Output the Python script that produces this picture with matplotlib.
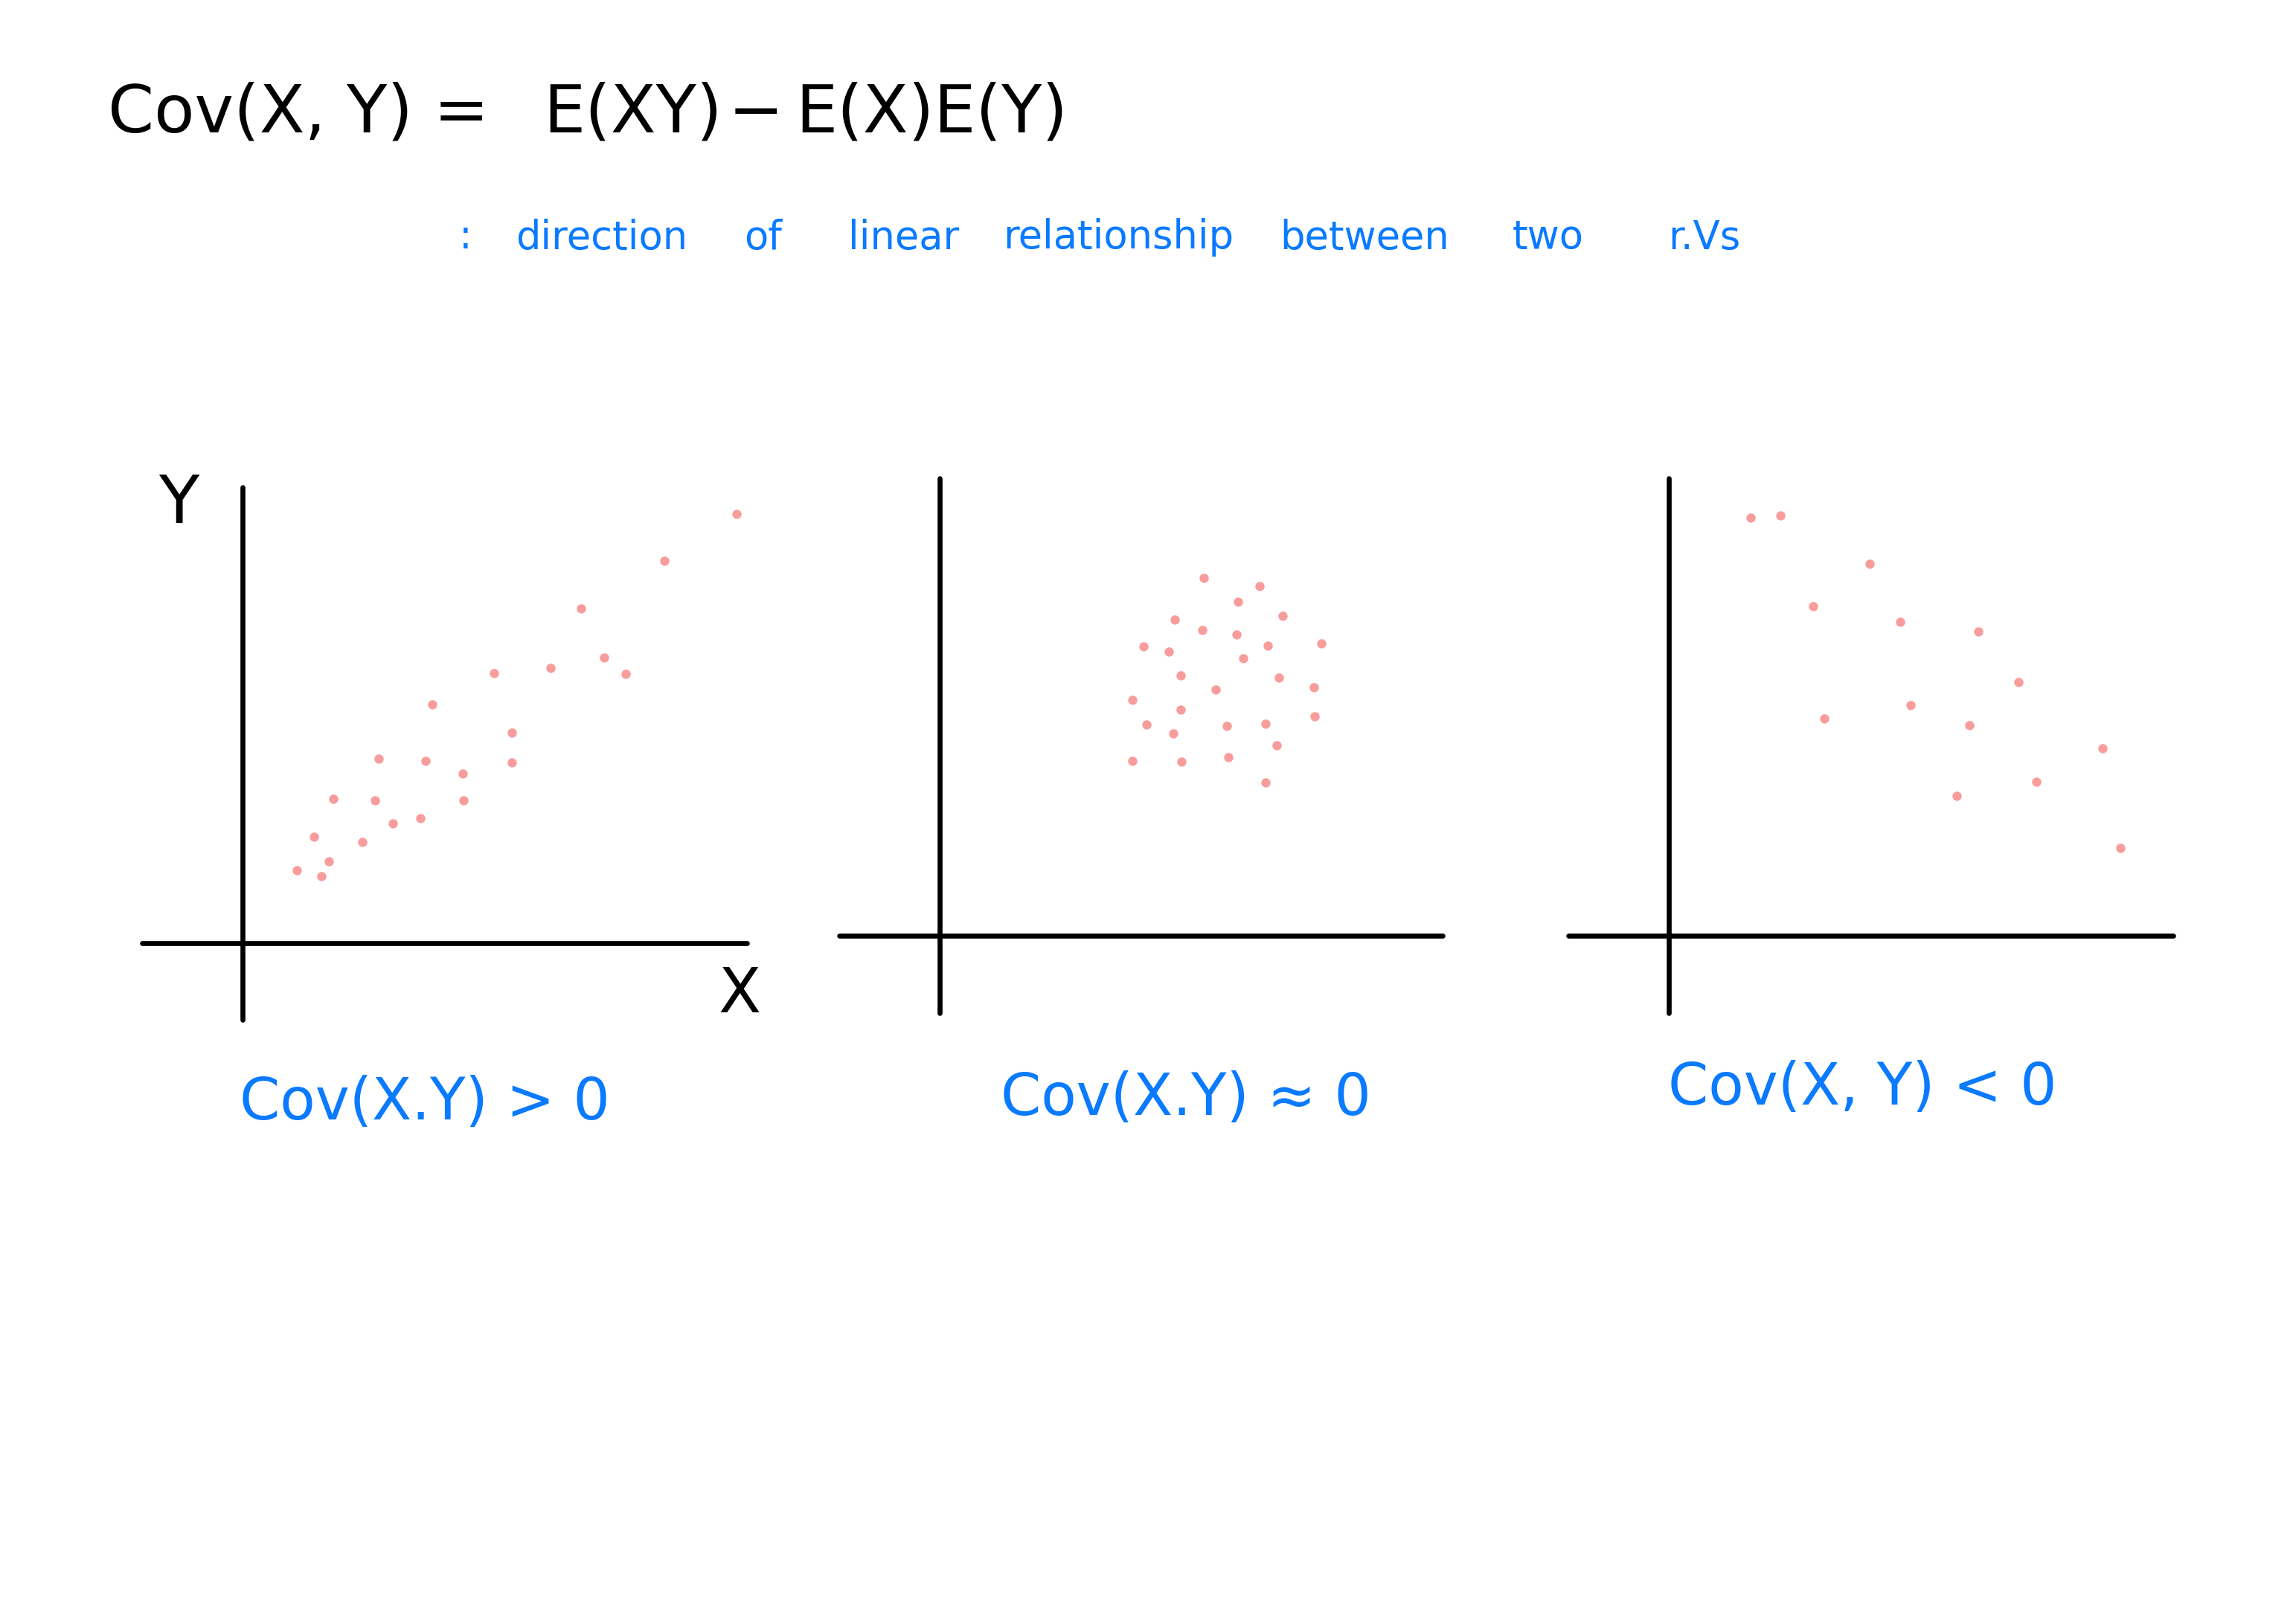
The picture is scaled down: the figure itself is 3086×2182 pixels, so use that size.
import numpy as np
import matplotlib.pyplot as plt

# points, origin at the axes crossing
pos_x = [9.80, 8.37, 6.71, 7.17, 7.60, 6.11, 4.98, 3.76, 5.34, 2.70, 3.63, 5.34,
         4.36, 1.80, 2.62, 4.38, 3.53, 2.98, 1.41, 2.37, 1.71, 1.07, 1.56]
pos_y = [9.41, 8.39, 7.34, 6.26, 5.91, 6.04, 5.92, 5.23, 4.62, 4.04, 4.00, 3.96,
         3.72, 3.17, 3.13, 3.13, 2.74, 2.62, 2.33, 2.21, 1.79, 1.59, 1.47]

zero_x = [5.26, 6.36, 5.93, 6.82, 4.68, 5.23, 5.90, 6.53, 7.60, 4.06, 4.56, 6.04, 4.79, 6.75,
          5.49, 7.44, 3.83, 4.79, 7.46, 4.12, 5.71, 6.48, 4.65, 6.71, 3.83, 4.81, 5.75, 6.48]
zero_y = [7.83, 7.65, 7.30, 6.99, 6.91, 6.69, 6.59, 6.35, 6.39, 6.32, 6.22, 6.06, 5.69, 5.64,
          5.39, 5.43, 5.15, 4.95, 4.79, 4.62, 4.59, 4.63, 4.43, 4.16, 3.82, 3.80, 3.91, 3.35]

neg_x = [1.62, 2.21, 3.98, 2.86, 4.59, 6.14, 6.94, 4.80, 3.08, 5.96, 8.60, 7.29, 5.71, 8.96]
neg_y = [9.14, 9.19, 8.13, 7.20, 6.87, 6.65, 5.54, 5.04, 4.75, 4.61, 4.09, 3.37, 3.06, 1.91]

captions = ["Cov(X.Y) > 0", "Cov(X.Y) ≈ 0", "Cov(X, Y) < 0"]
title_parts = ["Cov(X, Y)", "=", "E(XY)", "−", "E(X)E(Y)"]
sub_words = [":", "direction", "of", "linear", "relationship", "between", "two", "r.Vs"]

pink = "#F89C9C"
blue = "#0A7AFF"

W, H = 1568, 1109  # layout measured on the shrunk picture
fig = plt.figure(figsize=(15.43, 10.91), dpi=200)
fig.patch.set_facecolor("white")

panels = [(pos_x, pos_y, 97, 510, 333, 697),
          (zero_x, zero_y, 573, 985, 327, 692),
          (neg_x, neg_y, 1071, 1484, 327, 692)]

for xs, ys, x0, x1, y0, y1 in panels:
    ax = fig.add_axes([x0 / W, 1 - y1 / H, (x1 - x0) / W, (y1 - y0) / H])
    ax.set_xlim(-2.0, 10.0)
    ax.set_ylim(-1.69, 10.0)
    for side in ["top", "right"]:
        ax.spines[side].set_visible(False)
    for side in ["left", "bottom"]:
        ax.spines[side].set_position(("data", 0))
        ax.spines[side].set_linewidth(2.4)
        ax.spines[side].set_capstyle("round")
    ax.set_xticks([])
    ax.set_yticks([])
    ax.patch.set_alpha(0)
    ax.scatter(xs, ys, s=20, color=pink, linewidths=0, clip_on=False)

# title formula
for txt, cx in zip(title_parts, [178, 315, 432, 516, 636]):
    fig.text(cx / W, 1 - 90 / H, txt, ha="center", va="baseline",
             fontsize=32, color="black")

for txt, cx in zip(sub_words, [318, 411, 521, 617, 764, 932, 1057, 1164]):
    fig.text(cx / W, 1 - 170 / H, txt, ha="center", va="baseline",
             fontsize=19, color=blue)

# axis letters on the first panel
fig.text(122 / W, 1 - 345 / H, "Y", ha="center", va="center", fontsize=32)
fig.text(505 / W, 1 - 680 / H, "X", ha="center", va="center", fontsize=30)

for txt, cx, by in zip(captions, [290, 810, 1272], [765, 762, 755]):
    fig.text(cx / W, 1 - by / H, txt, ha="center", va="baseline",
             fontsize=28, color=blue)

fig.savefig("out.png", dpi=200, facecolor="white")
